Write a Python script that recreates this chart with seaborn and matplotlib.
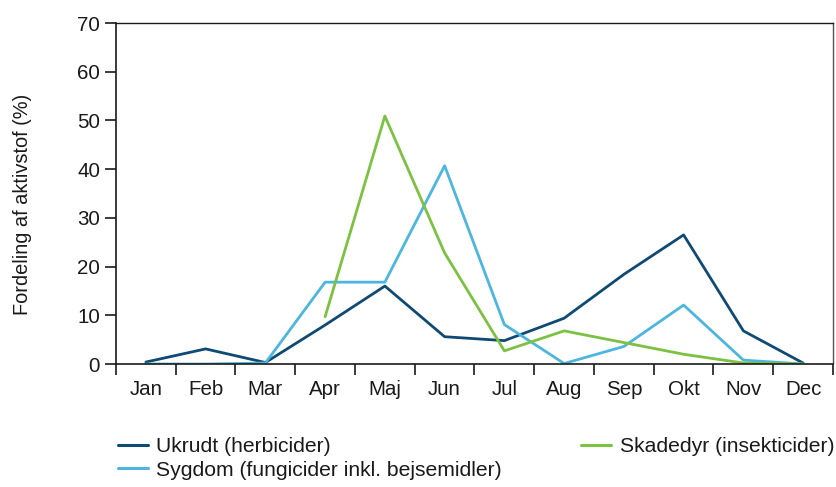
import numpy as np
import pandas as pd
import matplotlib
matplotlib.use("Agg")
import matplotlib.pyplot as plt
from matplotlib.lines import Line2D
import seaborn as sns

months = ["Jan", "Feb", "Mar", "Apr", "Maj", "Jun", "Jul", "Aug", "Sep", "Okt", "Nov", "Dec"]
ukrudt = [0.4, 3.1, 0.3, 8.0, 16.0, 5.6, 4.8, 9.4, 18.4, 26.5, 6.8, 0.2]
sygdom = [0.0, 0.0, 0.2, 16.8, 16.8, 40.7, 8.1, 0.1, 3.6, 12.1, 0.8, 0.0]
skadedyr = [np.nan, np.nan, np.nan, 9.7, 50.9, 22.8, 2.7, 6.8, 4.4, 2.0, 0.2, 0.0]

series_names = ["Ukrudt (herbicider)", "Sygdom (fungicider inkl. bejsemidler)", "Skadedyr (insekticider)"]
colors = ["#0e4a73", "#4cb6df", "#7cc142"]
y_ticks = [0, 10, 20, 30, 40, 50, 60, 70]

df = pd.concat([
    pd.DataFrame({"Måned": range(len(months)), "Andel": vals, "Serie": name})
    for name, vals in zip(series_names, [ukrudt, sygdom, skadedyr])
], ignore_index=True)

sns.set_theme(style="white")
plt.rcParams["font.family"] = ["Liberation Sans", "DejaVu Sans"]
fs = 14.8
fs_leg = 15.2
ink = "#1a1a1a"

fig = plt.figure(figsize=(8.37, 4.87), dpi=100)
ax = fig.add_axes([116 / 837, 1 - 364 / 487, (833 - 116) / 837, (364 - 23) / 487])

sns.lineplot(data=df, x="Måned", y="Andel", hue="Serie", palette=colors,
             hue_order=series_names, linewidth=2.0, ax=ax, legend=False)

ax.set_xlim(-0.5, len(months) - 0.5)
ax.set_ylim(0, 70)
ax.set_yticks(y_ticks)
ax.set_yticklabels([str(t) for t in y_ticks], fontsize=fs, color=ink)
ax.set_xticks(range(len(months)))
ax.set_xticklabels(months, fontsize=fs, color=ink)
ax.set_xticks(np.arange(-0.5, len(months)), minor=True)
ax.tick_params(axis="x", which="major", length=0, pad=11.5)
ax.tick_params(axis="x", which="minor", length=8, width=1.2, color=ink, direction="out", bottom=True)
ax.tick_params(axis="y", which="major", length=8, width=1.2, color=ink, direction="out", left=True, pad=3.5)
ax.set_xlabel("")
ax.set_ylabel("Fordeling af aktivstof (%)", fontsize=14.4, color=ink)
ax.yaxis.set_label_coords((32 - 116) / 717, (364 - 204) / 341)

for side, sp in ax.spines.items():
    sp.set_visible(True)
    sp.set_color(ink)
    sp.set_linewidth(1.2 if side in ("left", "bottom") else 1.0)
ax.spines["right"].set_color("#555555")

handles = [Line2D([], [], color=c, linewidth=2.2) for c in colors]
fig.legend(handles, series_names, loc="upper left", bbox_to_anchor=(118 / 837, 1 - 437 / 487),
           ncol=2, frameon=False, fontsize=fs_leg, handlelength=1.4, handletextpad=0.42,
           columnspacing=3.75, labelspacing=0.22, borderaxespad=0, borderpad=0,
           labelcolor=ink)

fig.savefig("out.png", dpi=100)
